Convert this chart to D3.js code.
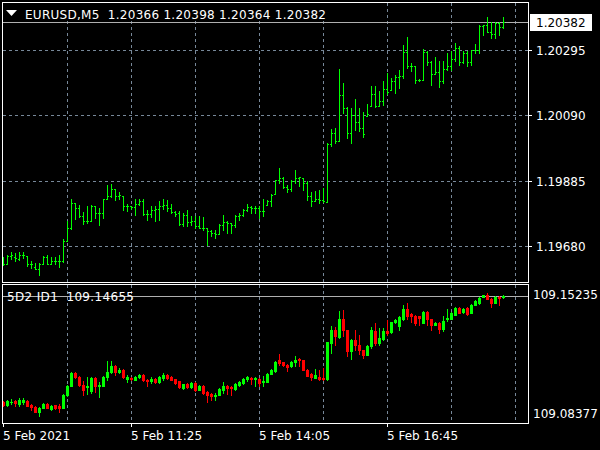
<!DOCTYPE html>
<html><head><meta charset="utf-8">
<script src="https://cdn.jsdelivr.net/npm/d3@7"></script>
<style>
html,body{margin:0;padding:0;background:#000;}
svg{display:block;font-family:"DejaVu Sans",sans-serif;}
text{white-space:pre;}
</style>
</head><body>
<svg id="chart" width="600" height="450"></svg>
<script>
// ---------- DATA ----------
const symbolTitle = "EURUSD,M5  1.20366 1.20398 1.20364 1.20382";
const indexTitle = "5D2 ID1  109.14655";
const priceTicks = [1.20295, 1.20090, 1.19885, 1.19680];
const lastPrice = 1.20382;
const indexTicks = [109.15235, 109.08377];
const indexLast = 109.14655;
const timeTickIdx = [0, 32, 64, 96];
const timeLabels = ["5 Feb 2021", "5 Feb 11:25", "5 Feb 14:05", "5 Feb 16:45"];
const gridIdx = [16, 32, 48, 64, 80, 96, 112, 128];

const opens = [1.19622,1.19624,1.19650,1.19645,1.19640,1.19653,1.19650,1.19624,1.19615,1.19609,
1.19624,1.19647,1.19624,1.19632,1.19632,1.19632,1.19696,1.19737,1.19815,1.19800,
1.19773,1.19758,1.19758,1.19805,1.19784,1.19784,1.19827,1.19837,1.19860,1.19837,
1.19838,1.19804,1.19804,1.19802,1.19812,1.19822,1.19781,1.19781,1.19793,1.19795,
1.19804,1.19810,1.19800,1.19788,1.19785,1.19750,1.19777,1.19754,1.19760,1.19742,
1.19738,1.19736,1.19726,1.19721,1.19719,1.19747,1.19754,1.19752,1.19745,1.19773,
1.19777,1.19792,1.19802,1.19798,1.19799,1.19789,1.19810,1.19820,1.19844,1.19886,
1.19894,1.19866,1.19859,1.19884,1.19893,1.19893,1.19878,1.19836,1.19820,1.19827,
1.19823,1.19818,1.20000,1.20034,1.20008,1.20155,1.20113,1.20034,1.20092,1.20069,
1.20050,1.20089,1.20120,1.20157,1.20118,1.20136,1.20172,1.20170,1.20199,1.20209,
1.20212,1.20289,1.20244,1.20244,1.20200,1.20202,1.20289,1.20256,1.20220,1.20225,
1.20199,1.20236,1.20244,1.20267,1.20301,1.20256,1.20285,1.20256,1.20294,1.20296,
1.20371,1.20374,1.20353,1.20346,1.20380,1.20366];
const highs = [1.19645,1.19651,1.19661,1.19657,1.19661,1.19661,1.19650,1.19632,1.19626,1.19626,
1.19650,1.19651,1.19647,1.19647,1.19653,1.19702,1.19758,1.19826,1.19815,1.19810,
1.19787,1.19805,1.19810,1.19807,1.19799,1.19829,1.19870,1.19875,1.19860,1.19849,
1.19838,1.19812,1.19807,1.19826,1.19829,1.19826,1.19794,1.19804,1.19804,1.19820,
1.19829,1.19825,1.19813,1.19789,1.19789,1.19783,1.19794,1.19775,1.19775,1.19773,
1.19771,1.19736,1.19729,1.19731,1.19750,1.19778,1.19759,1.19752,1.19778,1.19783,
1.19797,1.19813,1.19806,1.19804,1.19804,1.19827,1.19825,1.19843,1.19888,1.19926,
1.19898,1.19872,1.19886,1.19919,1.19898,1.19893,1.19883,1.19848,1.19854,1.19857,
1.19862,1.20003,1.20047,1.20050,1.20235,1.20191,1.20116,1.20113,1.20141,1.20113,
1.20102,1.20126,1.20183,1.20183,1.20167,1.20199,1.20223,1.20207,1.20217,1.20231,
1.20312,1.20336,1.20254,1.20244,1.20204,1.20298,1.20291,1.20259,1.20273,1.20262,
1.20259,1.20285,1.20291,1.20317,1.20308,1.20291,1.20291,1.20296,1.20315,1.20374,
1.20374,1.20400,1.20382,1.20382,1.20382,1.20398];
const lows = [1.19620,1.19622,1.19640,1.19634,1.19636,1.19643,1.19617,1.19611,1.19607,1.19590,
1.19622,1.19622,1.19622,1.19622,1.19615,1.19630,1.19695,1.19734,1.19766,1.19772,
1.19749,1.19752,1.19758,1.19768,1.19747,1.19768,1.19826,1.19833,1.19825,1.19829,
1.19793,1.19791,1.19795,1.19777,1.19810,1.19778,1.19763,1.19770,1.19760,1.19763,
1.19795,1.19789,1.19783,1.19775,1.19746,1.19742,1.19742,1.19746,1.19736,1.19736,
1.19731,1.19682,1.19710,1.19705,1.19719,1.19731,1.19721,1.19721,1.19739,1.19762,
1.19773,1.19789,1.19783,1.19783,1.19768,1.19773,1.19810,1.19806,1.19842,1.19878,
1.19862,1.19851,1.19853,1.19878,1.19867,1.19857,1.19823,1.19806,1.19820,1.19815,
1.19817,1.19817,1.19993,1.20003,1.20008,1.20097,1.20019,1.20003,1.20045,1.20040,
1.20022,1.20087,1.20118,1.20115,1.20118,1.20123,1.20158,1.20170,1.20160,1.20176,
1.20207,1.20238,1.20228,1.20193,1.20197,1.20200,1.20249,1.20186,1.20220,1.20178,
1.20193,1.20233,1.20233,1.20259,1.20249,1.20254,1.20246,1.20249,1.20285,1.20285,
1.20343,1.20350,1.20332,1.20332,1.20343,1.20364];
const closes = [1.19624,1.19650,1.19651,1.19643,1.19653,1.19652,1.19624,1.19622,1.19609,1.19624,
1.19647,1.19624,1.19632,1.19633,1.19632,1.19696,1.19737,1.19815,1.19800,1.19773,
1.19758,1.19758,1.19805,1.19784,1.19784,1.19827,1.19837,1.19860,1.19837,1.19839,
1.19804,1.19804,1.19802,1.19812,1.19822,1.19781,1.19781,1.19793,1.19795,1.19804,
1.19810,1.19800,1.19788,1.19781,1.19750,1.19777,1.19754,1.19760,1.19742,1.19738,
1.19736,1.19726,1.19721,1.19719,1.19747,1.19754,1.19752,1.19745,1.19773,1.19777,
1.19792,1.19802,1.19798,1.19799,1.19789,1.19790,1.19822,1.19841,1.19886,1.19894,
1.19866,1.19859,1.19884,1.19893,1.19895,1.19878,1.19836,1.19820,1.19827,1.19823,
1.19820,1.20000,1.20034,1.20008,1.20155,1.20113,1.20034,1.20092,1.20069,1.20050,
1.20031,1.20095,1.20157,1.20118,1.20136,1.20172,1.20164,1.20199,1.20209,1.20212,
1.20289,1.20244,1.20244,1.20200,1.20202,1.20289,1.20256,1.20220,1.20225,1.20199,
1.20236,1.20244,1.20267,1.20301,1.20256,1.20285,1.20256,1.20294,1.20296,1.20371,
1.20373,1.20353,1.20346,1.20380,1.20367,1.20382];

const idxOpen = [109.09419,109.09270,109.09386,109.09469,109.09320,109.09403,109.09469,109.09254,109.09171,109.08922,
109.09121,109.09320,109.09055,109.09254,109.09187,109.09105,109.09767,109.10215,109.10844,109.10662,
109.10264,109.10148,109.09950,109.10612,109.10182,109.10215,109.10646,109.10911,109.11209,109.10911,
109.11010,109.10563,109.10612,109.10513,109.10646,109.10745,109.10513,109.10430,109.10546,109.10380,
109.10612,109.10762,109.10662,109.10530,109.10430,109.10099,109.10298,109.10148,109.10364,109.10016,
109.10215,109.09883,109.09800,109.09684,109.09767,109.10016,109.10215,109.10148,109.10049,109.10248,
109.10347,109.10546,109.10612,109.10546,109.10546,109.10380,109.10414,109.10811,109.10944,109.11507,
109.11375,109.11242,109.11176,109.11408,109.11540,109.11474,109.11010,109.10778,109.10612,109.10629,
109.10612,109.10546,109.12303,109.12949,109.12634,109.13496,109.12965,109.11921,109.12501,109.12253,
109.11971,109.11756,109.12203,109.12916,109.12303,109.12534,109.12916,109.12866,109.13363,109.13164,
109.13529,109.14026,109.13761,109.13694,109.13661,109.13330,109.13877,109.13496,109.13247,109.13330,
109.13048,109.13496,109.13529,109.13744,109.14076,109.13860,109.14092,109.13827,109.14241,109.14291,
109.14622,109.14689,109.14523,109.14324,109.14622,109.14589];
const idxHigh = [109.09452,109.09519,109.09568,109.09519,109.09602,109.09602,109.09486,109.09303,109.09187,109.09138,
109.09353,109.09353,109.09254,109.09270,109.09303,109.09784,109.10248,109.10878,109.10878,109.10695,
109.10430,109.10646,109.10646,109.10646,109.10380,109.10679,109.11457,109.11424,109.11242,109.11110,
109.11043,109.10728,109.10646,109.10679,109.10795,109.10778,109.10563,109.10646,109.10579,109.10695,
109.10861,109.10778,109.10695,109.10563,109.10463,109.10314,109.10331,109.10397,109.10397,109.10248,
109.10248,109.09933,109.09850,109.09850,109.10082,109.10414,109.10248,109.10182,109.10347,109.10447,
109.10596,109.10712,109.10646,109.10629,109.10579,109.10679,109.10844,109.11043,109.11441,109.11805,
109.11408,109.11275,109.11441,109.11706,109.11573,109.11507,109.11043,109.10844,109.11060,109.11010,
109.11093,109.12402,109.13164,109.13114,109.13910,109.13943,109.12998,109.12534,109.12998,109.12750,
109.12004,109.12236,109.13114,109.13330,109.13081,109.13081,109.13462,109.13396,109.13496,109.13661,
109.14241,109.14324,109.13827,109.13728,109.13694,109.13910,109.13910,109.13529,109.13363,109.13363,
109.13661,109.14026,109.13860,109.14125,109.14109,109.14076,109.14125,109.14274,109.14457,109.14606,
109.14722,109.14821,109.14556,109.14656,109.14656,109.14705];
const idxLow = [109.09187,109.09220,109.09320,109.09220,109.09220,109.09320,109.09187,109.09022,109.08889,109.08690,
109.09088,109.09088,109.09022,109.09055,109.08889,109.09088,109.09718,109.10182,109.10596,109.10215,
109.09767,109.09817,109.09850,109.09883,109.09635,109.10182,109.10513,109.10844,109.10762,109.10828,
109.10596,109.10414,109.10496,109.10480,109.10612,109.10447,109.10182,109.10347,109.10347,109.10347,
109.10513,109.10546,109.10480,109.10314,109.10099,109.10066,109.10115,109.10115,109.09950,109.09983,
109.09817,109.09386,109.09519,109.09486,109.09734,109.09850,109.09817,109.09767,109.10016,109.10215,
109.10314,109.10463,109.10314,109.10215,109.10182,109.10215,109.10380,109.10778,109.10911,109.11259,
109.11192,109.10960,109.11143,109.11209,109.11209,109.10977,109.10679,109.10480,109.10579,109.10480,
109.10513,109.10513,109.11839,109.12220,109.12584,109.12700,109.11673,109.11540,109.12004,109.11805,
109.11590,109.11723,109.12087,109.12253,109.12253,109.12501,109.12750,109.12833,109.13330,109.12998,
109.13462,109.13529,109.13363,109.13247,109.13247,109.13297,109.13247,109.12998,109.13214,109.12800,
109.12916,109.13413,109.13496,109.13711,109.13794,109.13827,109.13728,109.13794,109.14208,109.14258,
109.14589,109.14490,109.14125,109.14291,109.14241,109.14556];
const idxClose = [109.09254,109.09469,109.09419,109.09353,109.09519,109.09502,109.09220,109.09154,109.08922,109.09121,
109.09320,109.09121,109.09220,109.09088,109.09105,109.09767,109.10215,109.10844,109.10646,109.10248,
109.10016,109.10215,109.10612,109.10215,109.10248,109.10646,109.10911,109.11209,109.10878,109.10994,
109.10629,109.10646,109.10530,109.10646,109.10762,109.10480,109.10463,109.10546,109.10380,109.10662,
109.10745,109.10579,109.10513,109.10347,109.10132,109.10281,109.10148,109.10364,109.09983,109.10215,
109.09850,109.09767,109.09718,109.09767,109.10049,109.10215,109.10082,109.10082,109.10314,109.10414,
109.10563,109.10629,109.10546,109.10596,109.10347,109.10463,109.10811,109.11010,109.11408,109.11341,
109.11225,109.11143,109.11408,109.11507,109.11474,109.11010,109.10712,109.10646,109.10728,109.10546,
109.10546,109.12369,109.12949,109.12700,109.13496,109.12965,109.11921,109.12501,109.12253,109.11971,
109.11756,109.12203,109.12949,109.12303,109.12584,109.12916,109.12833,109.13363,109.13462,109.13628,
109.14026,109.13694,109.13694,109.13330,109.13578,109.13877,109.13496,109.13247,109.13330,109.13048,
109.13429,109.13578,109.13827,109.14092,109.13827,109.14042,109.13761,109.14241,109.14424,109.14573,
109.14689,109.14523,109.14324,109.14622,109.14556,109.14656];

// ---------- LAYOUT ----------
const BG = "#000000", FG = "#ffffff", GRID = "#778899", PLINE = "#b0b0b0";
const BULL = "#00ff00", BEAR = "#ff0000", BAR = "#00ff00";
const svg = d3.select("#chart");
svg.append("rect").attr("width", 600).attr("height", 450).attr("fill", BG);

const n = closes.length;
const x = d3.scaleLinear().domain([0, n - 1]).range([3.5, 3.5 + 4 * (n - 1)]);
const yTop = d3.scaleLinear().domain([1.19680, 1.20295]).range([246.5, 50.5]);
const yBot = d3.scaleLinear().domain([109.08377, 109.15235]).range([423, 285]);
const col = i => Math.floor(x(i));
const rowOf = v => Math.round(v - 0.5);

const topP = {l: 2, t: 2, r: 528, b: 282};
const botP = {l: 2, t: 284, r: 528, b: 423};

// grid: vertical
[topP, botP].forEach(p => {
  svg.append("g").selectAll("line").data(gridIdx).join("line")
    .attr("x1", d => col(d) + 0.5).attr("x2", d => col(d) + 0.5)
    .attr("y1", p.t + 1).attr("y2", p.b)
    .attr("stroke", GRID).attr("stroke-dasharray", "3,3").attr("shape-rendering", "crispEdges");
});
// grid: horizontal (top panel)
svg.append("g").selectAll("line").data(priceTicks).join("line")
  .attr("x1", topP.l + 1).attr("x2", topP.r)
  .attr("y1", d => rowOf(yTop(d)) + 0.5).attr("y2", d => rowOf(yTop(d)) + 0.5)
  .attr("stroke", GRID).attr("stroke-dasharray", "3,3").attr("shape-rendering", "crispEdges");

// last price lines
svg.append("line").attr("x1", topP.l).attr("x2", topP.r)
  .attr("y1", rowOf(yTop(lastPrice)) + 0.5).attr("y2", rowOf(yTop(lastPrice)) + 0.5)
  .attr("stroke", PLINE).attr("shape-rendering", "crispEdges");
svg.append("line").attr("x1", botP.l).attr("x2", botP.r)
  .attr("y1", rowOf(yBot(indexLast)) + 0.5).attr("y2", rowOf(yBot(indexLast)) + 0.5)
  .attr("stroke", PLINE).attr("shape-rendering", "crispEdges");

// OHLC bars (top)
const idx = d3.range(n);
const gBars = svg.append("g").attr("fill", BAR).attr("shape-rendering", "crispEdges");
idx.forEach(i => {
  const yh = rowOf(yTop(highs[i])), yl = rowOf(yTop(lows[i]));
  gBars.append("rect").attr("x", col(i)).attr("y", yh).attr("width", 1).attr("height", Math.max(1, yl - yh + 1));
  gBars.append("rect").attr("x", col(i) - 1).attr("y", rowOf(yTop(opens[i]))).attr("width", 1).attr("height", 1);
  gBars.append("rect").attr("x", col(i) + 1).attr("y", rowOf(yTop(closes[i]))).attr("width", 1).attr("height", 1);
});

// Candles (bottom)
const gC = svg.append("g").attr("shape-rendering", "crispEdges");
idx.forEach(i => {
  const up = idxClose[i] >= idxOpen[i];
  const c = up ? BULL : BEAR;
  const yh = rowOf(yBot(idxHigh[i])), yl = rowOf(yBot(idxLow[i]));
  gC.append("rect").attr("x", col(i)).attr("y", yh).attr("width", 1).attr("height", Math.max(1, yl - yh + 1)).attr("fill", c);
  const b1 = rowOf(yBot(Math.max(idxOpen[i], idxClose[i]))), b2 = rowOf(yBot(Math.min(idxOpen[i], idxClose[i])));
  gC.append("rect").attr("x", col(i) - 1).attr("y", b1).attr("width", 3).attr("height", Math.max(1, b2 - b1 + 1)).attr("fill", c);
});

// panel borders
[topP, botP].forEach(p => {
  svg.append("rect").attr("x", p.l + 0.5).attr("y", p.t + 0.5)
    .attr("width", p.r - p.l).attr("height", p.b - p.t)
    .attr("fill", "none").attr("stroke", FG).attr("shape-rendering", "crispEdges");
});

// right axis (top)
svg.append("g").selectAll("line").data(priceTicks).join("line")
  .attr("x1", topP.r + 1).attr("x2", topP.r + 4)
  .attr("y1", d => rowOf(yTop(d)) + 0.5).attr("y2", d => rowOf(yTop(d)) + 0.5)
  .attr("stroke", FG).attr("shape-rendering", "crispEdges");
svg.append("g").selectAll("text").data(priceTicks).join("text")
  .attr("x", 536).attr("y", d => rowOf(yTop(d)) + 5)
  .attr("fill", FG).attr("font-size", 12).text(d => d.toFixed(5));
const ly = rowOf(yTop(lastPrice));
svg.append("rect").attr("x", 530).attr("y", ly - 8).attr("width", 62).attr("height", 17).attr("fill", FG);
svg.append("text").attr("x", 536).attr("y", ly + 5).attr("fill", "#000").attr("font-size", 12).text(lastPrice.toFixed(5));

// right axis (bottom): edge labels
svg.append("text").attr("x", 533).attr("y", 299).attr("fill", FG).attr("font-size", 12).text(indexTicks[0].toFixed(5));
svg.append("text").attr("x", 533).attr("y", 418).attr("fill", FG).attr("font-size", 12).text(indexTicks[1].toFixed(5));

// time axis
svg.append("g").selectAll("line").data(timeTickIdx).join("line")
  .attr("x1", d => col(d) + 0.5).attr("x2", d => col(d) + 0.5)
  .attr("y1", botP.b + 1).attr("y2", botP.b + 4)
  .attr("stroke", FG).attr("shape-rendering", "crispEdges");
svg.append("g").selectAll("text").data(timeTickIdx).join("text")
  .attr("x", d => col(d)).attr("y", 440)
  .attr("fill", FG).attr("font-size", 12).text((d, k) => timeLabels[k]);

// titles
svg.append("rect").attr("x", 3).attr("y", 3).attr("width", 326).attr("height", 18).attr("fill", BG);
svg.append("path").attr("d", "M6,10 L17,10 L11.5,16 Z").attr("fill", FG);
svg.append("text").attr("x", 25).attr("y", 19).attr("fill", FG).attr("font-size", 12)
  .attr("textLength", 301).attr("lengthAdjust", "spacing").text(symbolTitle);
svg.append("text").attr("x", 7).attr("y", 301).attr("fill", FG).attr("font-size", 12)
  .attr("textLength", 127).attr("lengthAdjust", "spacing").text(indexTitle);
</script>
</body></html>
